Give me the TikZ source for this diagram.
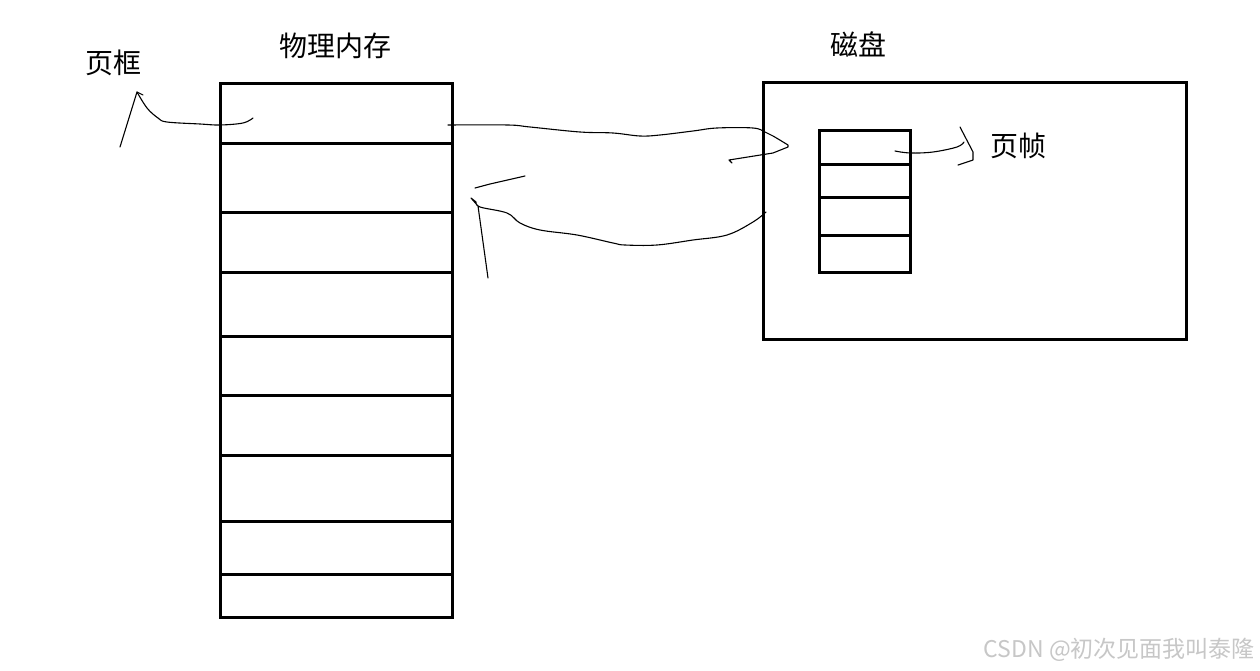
\documentclass[tikz,border=0pt]{standalone}
\usepackage{fontspec}
\newfontfamily\cjk{Noto Sans CJK SC}
\begin{document}
\begin{tikzpicture}[x=1pt,y=-1pt,
  box/.style={line width=3pt, line cap=rect},
  ink/.style={line width=1.1pt, line join=round, line cap=round},
  lbl/.style={font=\cjk\fontsize{28}{32}\selectfont, inner sep=0pt},
  wm/.style={font=\cjk\fontsize{23}{27}\selectfont, text=black!22, inner sep=0pt}]
\useasboundingbox[fill=white] (0,0) rectangle (1260,671);
% memory
\coordinate (m1) at (220,84);
\coordinate (m2) at (452,617);
\draw[box] (m1) rectangle (m2);
\foreach \y in {144,212,272,336,395,455,521,574}
  \draw[line width=3pt] (219,\y) -- (454,\y);
% disk
\coordinate (d1) at (763,83);
\coordinate (d2) at (1186,339);
\draw[box] (d1) rectangle (d2);
\coordinate (f1) at (819,131);
\coordinate (f2) at (910,272);
\draw[box] (f1) rectangle (f2);
\foreach \y in {165,198,235}
  \draw[line width=3pt] (819,\y) -- (910,\y);
% labels
\node[lbl] (kuang) at (113,63) {页框};
\node[lbl] (wuli) at (335,46) {物理内存};
\node[lbl] (cipan) at (858,44) {磁盘};
\node[lbl] (zhen) at (1018,146) {页帧};
\node[wm, anchor=east] (wmk) at (1255,650) {CSDN @初次见面我叫泰隆};
% freehand arrows
\coordinate (a1) at (253,118);
\coordinate (a1t) at (137,92);
\coordinate (a1e) at (120,147);
\draw[ink] plot[smooth,tension=0.6] coordinates {(a1) (243,123) (220,125) (200,124) (167,122) (158,118) (147,108) (a1t)} -- (a1e);
\draw[ink] (a1t) -- (143,95);
\coordinate (b1) at (448,125);
\coordinate (b2) at (788,147);
\coordinate (b3) at (729,160);
\draw[ink] plot[smooth,tension=0.6] coordinates {(b1) (508,125) (530,127) (580,132) (613,133) (640,136) (660,135) (693,131) (717,128) (753,128) (765,132) (773,136) (788,145)} -- (b2) -- (773,153) -- (b3) -- (732,163);
\coordinate (c1) at (766,212);
\coordinate (c2) at (476,202);
\draw[ink] plot[smooth,tension=0.6] coordinates {(c1) (753,222) (727,235) (693,240) (657,245) (625,245) (613,243) (577,235) (540,230) (520,223) (507,213) (480,207) (c2)} -- (471,198) -- (478,206) -- (488,278);
\draw[ink] (475,188) -- (490,184) -- (525,176);
\coordinate (e1) at (895,151);
\draw[ink] plot[smooth,tension=0.6] coordinates {(e1) (910,153) (933,152) (957,147) (964,142)};
\draw[ink] (960,127) -- (973,152) -- (973,160) -- (958,165);
\end{tikzpicture}
\end{document}
